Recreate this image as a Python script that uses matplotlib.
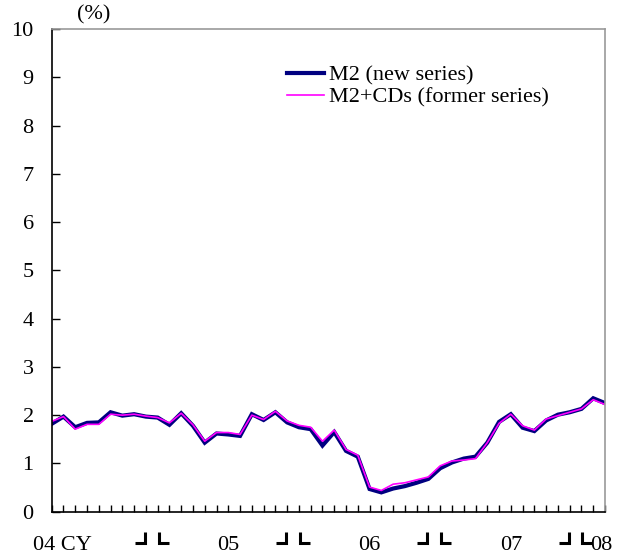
import matplotlib
matplotlib.use("Agg")
import matplotlib.pyplot as plt
from matplotlib.lines import Line2D

plt.rcParams["font.family"] = ["Liberation Serif", "DejaVu Serif"]

# monthly, Apr 2004 - Mar 2008, y/y % change
months = list(range(48))
m2_new = [1.82, 1.97, 1.75, 1.84, 1.85, 2.06, 1.99, 2.02, 1.97, 1.95,
          1.80, 2.04, 1.78, 1.43, 1.62, 1.60, 1.57, 2.02, 1.90, 2.06,
          1.85, 1.75, 1.71, 1.37, 1.65, 1.26, 1.14, 0.47, 0.40, 0.48,
          0.53, 0.60, 0.68, 0.90, 1.02, 1.10, 1.14, 1.43, 1.86, 2.02,
          1.74, 1.67, 1.89, 2.01, 2.06, 2.13, 2.35, 2.25]
m2_cds = [1.87, 1.97, 1.71, 1.81, 1.81, 2.02, 2.00, 2.02, 1.98, 1.95,
          1.84, 2.04, 1.80, 1.46, 1.64, 1.64, 1.60, 2.00, 1.91, 2.08,
          1.88, 1.79, 1.75, 1.46, 1.69, 1.29, 1.17, 0.51, 0.44, 0.57,
          0.60, 0.66, 0.72, 0.95, 1.05, 1.07, 1.10, 1.43, 1.83, 2.02,
          1.78, 1.69, 1.92, 1.99, 2.06, 2.13, 2.32, 2.22]

year_labels = ["05", "06", "07"]
year_label_pos = [15, 27, 39]     # July of each year
year_breaks = [8, 20, 32, 44]     # December index (boundary after it)

fig = plt.figure(figsize=(6.34, 5.6), dpi=100)
ax = fig.add_axes([51.7 / 634, 48.3 / 560, (605 - 51.7) / 634, (511.7 - 29) / 560])

ax.plot(months, m2_new, color="#000080", lw=3.0, solid_joinstyle="miter",
        label="M2 (new series)")
ax.plot(months, m2_cds, color="#FF00FF", lw=1.2, label="M2+CDs (former series)")

ax.set_xlim(0, 47)
ax.set_ylim(0, 10)
ax.set_yticks(range(0, 11))
ax.set_xticks(months)
ax.set_xticklabels([])
ax.tick_params(axis="y", direction="in", length=6, width=1, labelsize=16, pad=13)
ax.tick_params(axis="x", direction="in", length=5, width=1)

for s in ["left", "bottom"]:
    ax.spines[s].set_color("black")
    ax.spines[s].set_linewidth(1.2)
for s in ["right", "top"]:
    ax.spines[s].set_color("#999999")
    ax.spines[s].set_linewidth(1.2)

ax.text(94 / 634, 1 - 15 / 560, "(%)", transform=fig.transFigure,
        ha="center", va="center", fontsize=16)

trans = ax.get_xaxis_transform()
lab_y = -0.07
ax.text(-1.6, lab_y, "04 CY", transform=trans, ha="left", va="center", fontsize=16)
for lab, pos in zip(year_labels, year_label_pos):
    ax.text(pos, lab_y, lab, transform=trans, ha="center", va="center", fontsize=16)
ax.text(45.7, lab_y, "08", transform=trans, ha="left", va="center", fontsize=16)

# year boundary brackets
fig.canvas.draw()
for d in year_breaks:
    xd = ax.transData.transform((d, 0))[0] - 1
    xj = ax.transData.transform((d + 1, 0))[0] + 1
    ytop, ybot = 560 - 532, 560 - 543
    for pts in ([(xd - 10, ybot), (xd, ybot), (xd, ytop)],
                [(xj, ytop), (xj, ybot), (xj + 10, ybot)]):
        xs = [p[0] / 634 for p in pts]
        ys = [p[1] / 560 for p in pts]
        fig.add_artist(Line2D(xs, ys, transform=fig.transFigure, color="black",
                              lw=2.2, solid_joinstyle="miter", solid_capstyle="butt"))

ax.legend(loc="upper left", bbox_to_anchor=(287 / 634, 1 - 65 / 560),
          bbox_transform=fig.transFigure, frameon=False, fontsize=16,
          handlelength=1.65, handletextpad=0.25, labelspacing=0.08,
          borderpad=0, borderaxespad=0)

fig.savefig("out.png", dpi=100)
